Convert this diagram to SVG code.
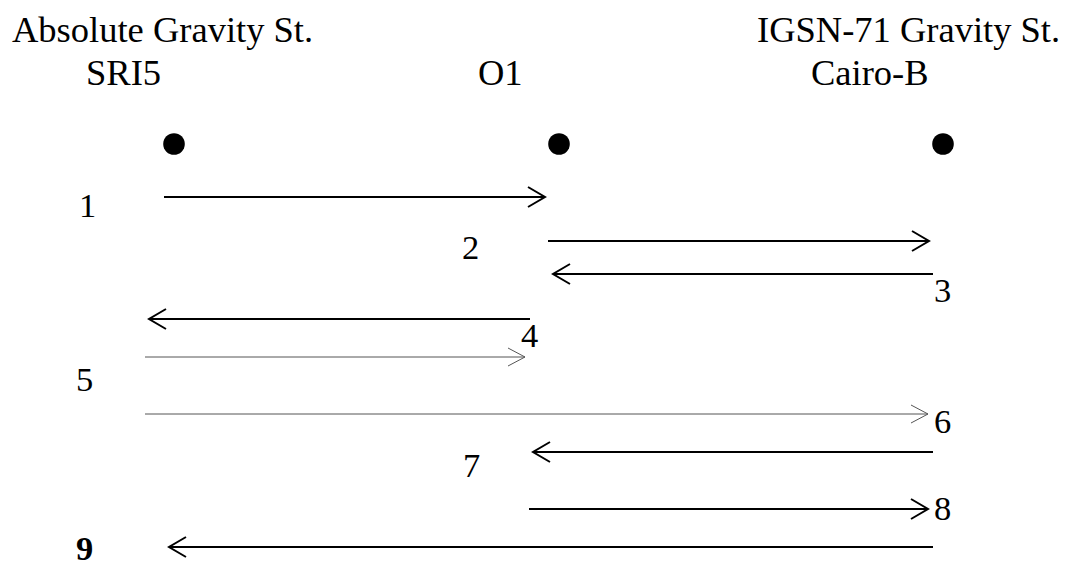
<svg xmlns="http://www.w3.org/2000/svg" width="1067" height="563" viewBox="0 0 1067 563" font-family="Liberation Serif">
<style>
.t{font-size:36.5px;fill:#000}
.n{font-size:34.5px;fill:#000}
.b{font-weight:bold}
.a{stroke:#000;stroke-width:2;fill:none}
.g{stroke:#555;stroke-width:1;fill:none}
</style>
<defs>
<marker id="ah" markerUnits="userSpaceOnUse" orient="auto" overflow="visible" markerWidth="1" markerHeight="1" refX="0" refY="0">
<path d="M-17,-10 L0,0 L-17,10" fill="none" stroke="#000" stroke-width="2"/>
</marker>
<marker id="ahg" markerUnits="userSpaceOnUse" orient="auto" overflow="visible" markerWidth="1" markerHeight="1" refX="0" refY="0">
<path d="M-17,-9 L0,0 L-17,9" fill="none" stroke="#555" stroke-width="1"/>
</marker>
</defs>
<g id="node-sri5" font-family="Liberation Serif">
<text class="t" x="12" y="42">Absolute Gravity St.</text>
<text class="t" x="86" y="85">SRI5</text>
<circle cx="174" cy="144" r="10.8" fill="#000"/>
</g>
<g id="node-o1" font-family="Liberation Serif">
<text class="t" x="478" y="85">O1</text>
<circle cx="559" cy="144" r="10.8" fill="#000"/>
</g>
<g id="node-cairo" font-family="Liberation Serif">
<text class="t" x="757" y="42">IGSN-71 Gravity St.</text>
<text class="t" x="811" y="85">Cairo-B</text>
<circle cx="943" cy="144" r="10.8" fill="#000"/>
</g>
<g id="connectors">
<line class="a" x1="164" y1="197" x2="545" y2="197" marker-end="url(#ah)"/>
<line class="a" x1="548" y1="241" x2="929" y2="241" marker-end="url(#ah)"/>
<line class="a" x1="933" y1="274" x2="553" y2="274" marker-end="url(#ah)"/>
<line class="a" x1="530" y1="319" x2="149" y2="319" marker-end="url(#ah)"/>
<line class="g" x1="145" y1="357" x2="525" y2="357" marker-end="url(#ahg)"/>
<line class="g" x1="145" y1="414" x2="928" y2="414" marker-end="url(#ahg)"/>
<line class="a" x1="933" y1="452" x2="533" y2="452" marker-end="url(#ah)"/>
<line class="a" x1="529" y1="509" x2="928" y2="509" marker-end="url(#ah)"/>
<line class="a" x1="933" y1="547" x2="169" y2="547" marker-end="url(#ah)"/>
</g>
<g id="labels" font-family="Liberation Serif">
<text class="n" x="79" y="217">1</text>
<text class="n" x="462" y="259">2</text>
<text class="n" x="934" y="302">3</text>
<text class="n" x="521" y="347">4</text>
<text class="n" x="76" y="391">5</text>
<text class="n" x="934" y="433">6</text>
<text class="n" x="463" y="477">7</text>
<text class="n" x="934" y="520">8</text>
<text class="n b" x="76" y="560">9</text>
</g>
</svg>
